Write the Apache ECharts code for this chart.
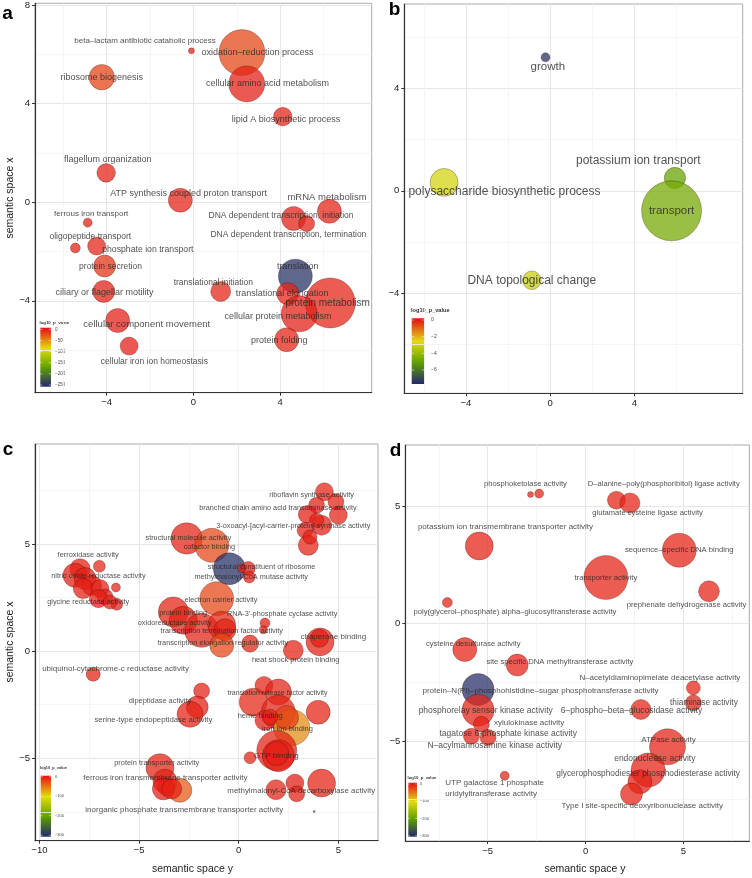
<!DOCTYPE html>
<html><head><meta charset="utf-8">
<script src="https://cdn.jsdelivr.net/npm/echarts@6/dist/echarts.min.js"></script>
<style>html,body{margin:0;padding:0;background:#fff}#c{width:752px;height:878px}</style>
</head><body><div id="c"></div><script>
// ---------- Panel a (biological process) ----------
const aTerms = ['beta\u2013lactam antibiotic catabolic process','oxidation\u2013reduction process','ribosome biogenesis','cellular amino acid metabolism','lipid A biosynthetic process','flagellum organization','ATP synthesis coupled proton transport','mRNA metabolism','ferrous iron transport','DNA dependent transcription, initiation','DNA dependent transcription, termination','oligopeptide transport','phosphate ion transport','protein secretion','ciliary or flagellar motility','translational initiation','translation','translational elongation','protein metabolism','cellular protein metabolism','cellular component movement','protein folding','cellular iron ion homeostasis'];
const aX = [-0.09,2.24,-4.22,2.46,4.12,-4.02,-0.6,6.27,-4.87,4.62,5.22,-5.44,-4.46,-4.09,-4.13,1.26,4.7,4.35,6.31,4.88,-3.49,4.3,-2.96];
const aY = [6.14,6.07,5.07,4.8,3.47,1.19,0.08,-0.37,-0.83,-0.66,-0.87,-1.86,-1.78,-2.59,-3.62,-3.62,-3.0,-3.71,-4.09,-4.53,-4.8,-5.58,-5.84];
const aLogSize = [0.5,3.83,2.12,3.0,1.55,1.55,2.0,2.0,0.75,2.0,1.33,0.83,1.5,1.83,1.83,1.67,2.83,1.83,4.17,3.0,2.0,2.0,1.5];
const aPval = [-5,-20,-18,-3,-5,-5,-5,-4,-3,-3,-3,-3,-4,-12,-3,-5,-250,-5,-5,-3,-3,-5,-3];
const aLabX = [-2.23,2.96,-4.22,3.42,4.27,-3.95,-0.22,6.16,-4.71,4.04,4.38,-4.75,-2.1,-3.82,-4.1,0.92,4.81,4.09,6.19,3.9,-2.15,3.96,-1.8];
const aLabY = [6.56,6.07,5.07,4.8,3.36,1.74,0.35,0.19,-0.49,-0.53,-1.33,-1.38,-1.91,-2.61,-3.66,-3.27,-2.6,-3.71,-4.09,-4.62,-4.97,-5.61,-6.46];

// ---------- Panel b ----------
const bTerms = ['growth','polysaccharide biosynthetic process','potassium ion transport','transport','DNA topological change'];
const bX = [-0.22,-5.04,5.93,5.77,-0.87];
const bY = [5.21,0.33,0.5,-0.78,-3.49];
const bLogSize = [0.75,2.33,1.78,5.0,1.55];
const bPval = [-7.4,-2.9,-5.0,-4.7,-3.1];
const bLabX = [-0.11,-2.17,4.19,5.77,-0.87];
const bLabY = [4.84,-0.02,1.17,-0.78,-3.49];

// ---------- Panel c (molecular function) ----------
const cX = [-7.96,-6.99,-8.21,-7.71,-7.38,-7.8,-6.96,-6.71,-7.04,-6.16,-6.12,-6.46,
  -2.61,-1.35,-0.47,0.48,0.53,0.15,-1.1,-3.28,-2.78,-1.86,-0.85,-0.69,-0.85,1.32,1.24,0.57,2.74,4.08,4.05,
  4.3,4.88,5.0,3.91,3.44,4.16,3.33,3.49,3.91,3.58,
  -7.3,-1.86,-2.08,-2.44,1.27,1.99,0.73,1.99,3.99,1.32,2.66,2.4,1.57,1.91,1.99,1.91,0.57,-3.95,-3.7,-3.61,-2.95,-3.78,-3.36,1.87,2.82,2.91,4.16,3.79];
const cY = [3.85,3.96,3.54,3.39,3.07,2.92,2.92,2.53,2.45,2.97,2.19,2.29,
  5.26,4.94,3.85,3.86,3.46,3.86,2.45,1.83,1.44,0.97,1.21,1.0,0.27,1.31,1.0,0.35,0.04,0.43,0.6,
  7.44,6.97,6.35,6.81,6.38,5.88,5.64,4.94,6.11,5.33,
  -1.08,-1.86,-2.61,-2.95,-1.6,-1.91,-2.38,-2.85,-2.85,-3.23,-3.57,-3.1,-3.08,-4.64,-4.88,-4.78,-4.98,-5.44,-6.07,-6.35,-6.5,-6.43,-6.43,-6.47,-6.16,-6.66,-6.16,-7.49];
const cLogSize = [1.67,1.0,2.0,1.83,1.67,1.67,1.5,1.33,1.5,0.75,1.0,1.17,
  2.62,2.83,2.67,1.17,1.0,0.67,2.83,2.5,2.33,2.83,2.33,1.83,2.0,0.83,0.67,1.42,1.67,2.33,1.5,
  1.5,1.33,1.5,1.33,1.5,1.67,1.33,1.67,1.17,1.17,
  1.17,1.33,1.83,2.17,1.5,2.17,2.33,2.83,2.0,1.67,3.0,2.0,1.33,3.33,2.67,2.0,1.0,2.33,2.0,1.5,2.0,1.83,1.67,1.67,1.5,1.33,2.33,0.17];
const cPval = [-3,-8,-3,-3,-3,-3,-3,-3,-3,-5,-3,-3,
  -5,-25,-300,-3,-3,-3,-25,-5,-3,-5,-8,-3,-25,-3,-3,-5,-5,-5,-2,
  -5,-5,-5,-3,-3,-3,-3,-5,-3,-3,
  -5,-5,-3,-5,-5,-5,-8,-5,-5,-3,-60,-20,-3,-5,-2,-2,-5,-5,-3,-2,-35,-3,-3,-5,-2,-3,-5,-5];
const cTerms = ['ferroxidase activity','nitric oxide reductase activity','glycine reductase activity','riboflavin synthase activity','branched chain amino acid transaminase activity','3-oxoacyl-[acyl-carrier-protein] synthase activity','structural molecule activity','cofactor binding','structural constituent of ribosome','methylmalonyl-CoA mutase activity','electron carrier activity','protein binding',"RNA-3'-phosphate cyclase activity",'oxidoreductase activity','transcription termination factor activity','transcription elongation regulator activity','chaperone binding','heat shock protein binding','ubiquinol-cytochrome-c reductase activity','dipeptidase activity','serine-type endopeptidase activity','translation release factor activity','heme binding','iron ion binding','GTP binding','protein transporter activity','ferrous iron transmembrane transporter activity','methylmalonyl-CoA decarboxylase activity','inorganic phosphate transmembrane transporter activity'];
const cLabX = [-7.55,-7.04,-7.55,3.66,1.97,2.74,-2.53,-1.47,1.15,0.63,-0.89,-2.79,2.18,-3.21,-0.85,-0.79,4.75,2.86,-6.18,-3.95,-4.28,1.95,1.08,2.45,1.89,-4.11,-3.68,3.14,-2.73];
const cLabY = [4.48,3.51,2.3,7.31,6.69,5.83,5.26,4.84,3.93,3.46,2.41,1.78,1.72,1.33,0.94,0.4,0.66,-0.43,-0.82,-2.33,-3.19,-1.94,-3.01,-3.62,-4.87,-5.21,-5.91,-6.5,-7.41];

// ---------- Panel d ----------
const dX = [-2.81,-2.37,1.58,2.27,-5.43,4.79,1.04,6.31,-7.06,-6.17,-3.49,5.51,-5.49,5.51,-5.49,2.83,-5.32,-5.83,-4.98,4.19,3.2,2.78,2.35,-4.13];
const dY = [5.49,5.53,5.25,5.13,3.3,3.12,1.96,1.37,0.89,-1.11,-1.77,-2.74,-2.81,-3.38,-3.69,-3.66,-4.29,-4.8,-4.85,-5.25,-6.24,-6.74,-7.26,-6.48];
const dLogSize = [0.5,0.75,1.5,1.67,2.33,2.83,3.67,1.75,0.83,2.0,1.83,1.17,2.67,1.33,2.67,1.67,1.33,1.33,1.33,3.0,2.83,2.0,1.83,0.75];
const dPval = [-5,-5,-5,-5,-5,-5,-5,-5,-5,-5,-5,-5,-300,-5,-5,-5,-3,-5,-5,-5,-5,-3,-5,-5];
const dTerms = ['phosphoketolase activity','D\u2013alanine\u2013poly(phosphoribitol) ligase activity','glutamate cysteine ligase activity','potassium ion transmembrane transporter activity','sequence\u2013specific DNA binding','transporter activity','prephenate dehydrogenase activity','poly(glycerol\u2013phosphate) alpha\u2013glucosyltransferase activity','cysteine desulfurase activity','site specific DNA methyltransferase activity','N\u2013acetyldiaminopimelate deacetylase activity','protein\u2013N(PI)\u2013phosphohistidine\u2013sugar phosphotransferase activity','thiaminase activity','phosphorelay sensor kinase activity','6\u2013phospho\u2013beta\u2013glucosidase activity','xylulokinase activity','tagatose 6-phosphate kinase activity','N\u2013acylmannosamine kinase activity','ATPase activity','endonuclease activity','glycerophosphodiester phosphodiesterase activity','Type I site-specific deoxyribonuclease activity','UTP galactose 1 phosphate\nuridylyltransferase activity'];
const dLabX = [-3.07,4.0,3.17,-4.09,4.79,1.04,5.16,-3.61,-5.74,-1.31,3.8,-2.3,6.05,-5.1,2.35,-2.88,-3.95,-4.64,4.24,3.54,3.2,2.9,-7.19];
const dLabY = [5.96,5.96,4.72,4.11,3.12,1.96,0.78,0.49,-0.88,-1.63,-2.31,-2.87,-3.36,-3.72,-3.73,-4.21,-4.68,-5.21,-4.94,-5.77,-6.38,-7.77,-7.01];

// ---------- style (not data) ----------
const FONT = "'Liberation Sans', Arial, Helvetica, sans-serif";
const COLS = ['#23286e','#5fa000','#e3dc12','#e41a16']; // min -> 0
const TXT = '#262626';
const aFont = [8,9,9,9,9,9,9,9.5,8,8.5,8.5,8.5,8.7,8.5,9,8.5,9,9,10,9,9.5,9,8.5];
const bFont = [11.5,12,12,11.5,12];
const cFont = [7.4,7.4,7.4,7.3,7.3,7.3,7.3,7.3,7.3,7.3,7.3,7.3,7.3,7.3,7.3,7.3,8,7.5,8,7.4,7.8,7,7.5,7.5,8,7.4,7.9,7.9,8];
const dFont = [7.6,7.6,7.6,8,7.7,7.7,7.7,7.7,7.6,7.7,8,8,8.3,8.5,8.5,8,8.5,8.5,8,8.5,8.3,8,8];

const panels = [
  {X:aX,Y:aY,S:aLogSize,P:aPval,T:aTerms,LX:aLabX,LY:aLabY,F:aFont,
   grid:{left:35,top:3.3,width:336.7,height:389.4},
   xr:[-7.3,8.22],yr:[-7.73,8.07],xmaj:[-4,0,4],xmin:[-6,-2,2,6],ymaj:[-4,0,4,8],ymin:[-6,-2,2,6],pmin:-257},
  {X:bX,Y:bY,S:bLogSize,P:bPval,T:bTerms,LX:bLabX,LY:bLabY,F:bFont,
   grid:{left:404.3,top:4,width:338.4,height:389.3},
   xr:[-6.93,9.15],yr:[-7.9,7.29],xmaj:[-4,0,4],xmin:[-6,-2,2,6],ymaj:[-4,0,4],ymin:[-6,-2,2,6],pmin:-7.68},
  {X:cX,Y:cY,S:cLogSize,P:cPval,T:cTerms,LX:cLabX,LY:cLabY,F:cFont,
   grid:{left:35,top:444,width:343,height:396.7},
   xr:[-10.22,6.99],yr:[-8.85,9.67],xmaj:[-10,-5,0,5],xmin:[-7.5,-2.5,2.5],ymaj:[-5,0,5],ymin:[-7.5,-2.5,2.5,7.5],pmin:-307},
  {X:dX,Y:dY,S:dLogSize,P:dPval,T:dTerms,LX:dLabX,LY:dLabY,F:dFont,
   grid:{left:405.3,top:445,width:344,height:396},
   xr:[-9.21,8.37],yr:[-9.26,7.6],xmaj:[-5,0,5],xmin:[-7.5,-2.5,2.5,7.5],ymaj:[-5,0,5],ymin:[-7.5,-2.5],pmin:-306}
];

const fmt = v => v < 0 ? '\u2212' + Math.abs(v) : String(v);
const grids=[], xAxes=[], yAxes=[], series=[], visualMaps=[], graphics=[];
function mainAxis(g, r, maj, pos){
  return {gridIndex:g,type:'value',min:r[0],max:r[1],position:pos,
    axisLine:{show:true,onZero:false,lineStyle:{color:'#333',width:1.2}},
    axisTick:{show:true,length:3,customValues:maj,lineStyle:{color:'#333',width:1}},
    axisLabel:{show:true,customValues:maj,fontSize:9.5,color:'#222',margin:5,fontFamily:FONT,formatter:fmt},
    splitLine:{show:true,lineStyle:{color:'#e6e6e6',width:1}}};
}
function minorAxis(g, r, mn, pos){
  return {gridIndex:g,type:'value',min:r[0],max:r[1],position:pos,
    axisLine:{show:false},axisTick:{show:false,customValues:mn},
    axisLabel:{show:false,customValues:mn},
    splitLine:{show:true,lineStyle:{color:'#f2f2f2',width:0.8}}};
}
panels.forEach((p,i)=>{
  grids.push(Object.assign({show:true,borderColor:'#aaa',borderWidth:1,backgroundColor:'transparent',containLabel:false},p.grid));
  xAxes[i] = mainAxis(i,p.xr,p.xmaj,'bottom');
  yAxes[i] = mainAxis(i,p.yr,p.ymaj,'left');
  xAxes[i+4] = minorAxis(i,p.xr,p.xmin,'top');
  yAxes[i+4] = minorAxis(i,p.yr,p.ymin,'right');
  series[i] = {type:'scatter',xAxisIndex:i,yAxisIndex:i,silent:true,z:2,
    data:p.X.map((x,k)=>[x,p.Y[k],p.S[k],p.P[k]]),
    symbolSize:v=>v[2]*12,
    itemStyle:{opacity:0.74,borderColor:'rgba(40,0,0,0.45)',borderWidth:0.8},
    emphasis:{disabled:true}};
  series[i+4] = {type:'scatter',xAxisIndex:i,yAxisIndex:i,silent:true,z:5,symbolSize:1,clip:false,
    itemStyle:{color:'rgba(0,0,0,0)'},emphasis:{disabled:true},
    label:{show:true,position:'inside',formatter:'{b}',color:TXT,fontFamily:FONT},
    data:p.T.map((t,k)=>{
      const it={name:t,value:[p.LX[k],p.LY[k]],label:{fontSize:p.F[k]}};
      if(t.indexOf('\n')>=0){it.label.position='right';it.label.distance=0;it.label.align='left';it.label.lineHeight=11;}
      return it;})};
  visualMaps.push({type:'continuous',show:false,seriesIndex:i,dimension:3,min:p.pmin,max:0,inRange:{color:COLS}});
});

// legends (decoration)
function legend(x,yTop,yBot,w,y0,k,vMin,ticks,labelX,fs,title,tx,ty,tfs){
  const vTop=(y0-yTop)/k;
  const off=v=>(vTop-v)/(vTop-vMin);
  graphics.push({type:'rect',shape:{x:x,y:yTop,width:w,height:yBot-yTop},
    style:{fill:{type:'linear',x:0,y:0,x2:0,y2:1,colorStops:[
      {offset:0,color:COLS[3]},{offset:off(0),color:COLS[3]},{offset:off(vMin/3),color:COLS[2]},
      {offset:off(2*vMin/3),color:COLS[1]},{offset:1,color:COLS[0]}]}}});
  ticks.forEach(t=>{
    const yy=y0+(-t)*k;
    graphics.push({type:'line',shape:{x1:x,y1:yy,x2:x+w*0.2,y2:yy},style:{stroke:'#fff',lineWidth:0.5}});
    graphics.push({type:'line',shape:{x1:x+w*0.8,y1:yy,x2:x+w,y2:yy},style:{stroke:'#fff',lineWidth:0.5}});
    graphics.push({type:'text',x:labelX,y:yy,style:{text:fmt(t),font:fs+'px '+FONT,fill:'#444',align:'left',verticalAlign:'middle'}});
  });
  graphics.push({type:'text',x:tx,y:ty,style:{text:title,font:'bold '+tfs+'px '+FONT,fill:'#333',align:'left',verticalAlign:'middle'}});
}
legend(40.3,327.7,386.7,10.7,329.3,0.2228,-257,[0,-50,-100,-150,-200,-250],55,4.5,'log10_p_value',39.5,322.5,4.3);
legend(411.7,318.3,384,12.6,320,8.33,-7.68,[0,-2,-4,-6],431,5,'log10_p_value',411,310,5.6);
legend(40.7,775.7,836.7,10.3,776.7,0.1953,-307,[0,-100,-200,-300],55,4,'log10_p_value',40,768,3.9);
legend(408.3,782.7,836.7,8.7,784,0.1723,-306,[0,-100,-200,-300],420,4,'log10_p_value',407.5,778,4.2);

// panel letters and axis titles
[['a',7.5,13.5],['b',394.5,10],['c',8,449.5],['d',395.5,451]].forEach(l=>{
  graphics.push({type:'text',x:l[1],y:l[2],style:{text:l[0],font:'bold 19px '+FONT,fill:'#000',align:'center',verticalAlign:'middle'}});
});
[[10,198],[10,642]].forEach(c=>{
  graphics.push({type:'text',x:c[0],y:c[1],rotation:Math.PI/2,style:{text:'semantic space x',font:'10.5px '+FONT,fill:'#222',align:'center',verticalAlign:'middle'}});
});
[[192.5,869.5],[585,869.5]].forEach(c=>{
  graphics.push({type:'text',x:c[0],y:c[1],style:{text:'semantic space y',font:'10.5px '+FONT,fill:'#222',align:'center',verticalAlign:'middle'}});
});

const chart = echarts.init(document.getElementById('c'),null,{renderer:'canvas',width:752,height:878});
chart.setOption({animation:false,backgroundColor:'#fff',grid:grids,xAxis:xAxes,yAxis:yAxes,
  visualMap:visualMaps,series:series,graphic:{elements:graphics}});
</script></body></html>
